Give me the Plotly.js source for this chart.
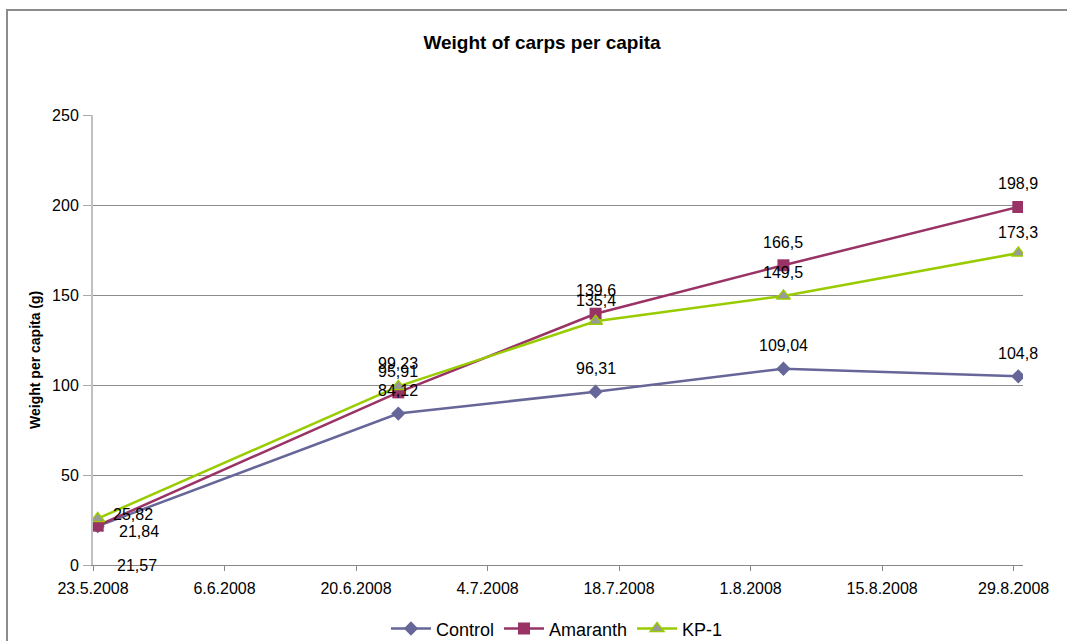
<!DOCTYPE html>
<html>
<head>
<meta charset="utf-8">
<script src="https://cdn.plot.ly/plotly-3.0.1.min.js"></script>
<style>
  html, body { margin: 0; padding: 0; background: #fff; overflow: hidden; width: 1067px; height: 641px; }
  #chart { position: absolute; left: 0; top: 0; width: 1067px; height: 641px; }
  #frame { position: absolute; left: 6px; top: 9px; width: 1059px; height: 630px;
           border-top: 2px solid #8c8c8c; border-left: 2px solid #8c8c8c; pointer-events: none; }
</style>
</head>
<body>
<div id="chart"></div>
<div id="frame"></div>
<script>
// ---- data ----
const dates = ['2008-05-23', '2008-06-24', '2008-07-15', '2008-08-04', '2008-08-29'];
const control = [21.57, 84.12, 96.31, 109.04, 104.8];
const amaranth = [21.84, 95.91, 139.6, 166.5, 198.9];
const kp1 = [25.82, 99.23, 135.4, 149.5, 173.3];
const seriesNames = ['Control', 'Amaranth', 'KP-1'];
const tickDates = ['2008-05-23', '2008-06-06', '2008-06-20', '2008-07-04', '2008-07-18', '2008-08-01', '2008-08-15', '2008-08-29'];

// ---- presentation ----
const FONT = '"Liberation Sans", Arial, sans-serif';
// Excel date axis places values in the middle of each day slot
const xs = dates.map(d => d + ' 12:00');
const fmt = v => String(v).replace('.', ',');

const styles = [
  { line: '#666699', marker: { symbol: 'diamond', size: 11, color: '#666699', line: { width: 0 } } },
  { line: '#993366', marker: { symbol: 'square', size: 12, color: '#993366', line: { width: 0 } } },
  { line: '#99CC00', marker: { symbol: 'triangle-up', size: 12, color: '#999999', line: { width: 1.5, color: '#99CC00' } } }
];
const allSeries = [control, amaranth, kp1];

const traces = allSeries.map((ys, i) => ({
  type: 'scatter', mode: 'lines+markers', name: seriesNames[i],
  x: xs, y: ys,
  line: { color: styles[i].line, width: 2.5 },
  marker: styles[i].marker,
  hoverinfo: 'x+y'
}));

// label offsets (pixels) per series / point: default above the point
const labelShift = [
  [[39, -39], null, null, null, null],
  [[41, -6], [0, 21], null, null, null],
  [[35, 4], null, [0, 21], null, [0, 21]]
];
const annotations = [];
allSeries.forEach((ys, i) => {
  ys.forEach((v, j) => {
    const s = labelShift[i][j] || [0, 23];
    annotations.push({
      x: xs[j], y: v, xref: 'x', yref: 'y', text: fmt(v), showarrow: false,
      xanchor: 'center', yanchor: 'middle', xshift: s[0], yshift: s[1],
      font: { family: FONT, size: 16, color: '#000' }
    });
  });
});
annotations.push({
  xref: 'paper', yref: 'paper', x: -0.0624, y: 0.4556, showarrow: false,
  text: '<b>Weight per capita (g)</b>', textangle: -90,
  xanchor: 'center', yanchor: 'middle',
  font: { family: FONT, size: 14, color: '#000' }
});

const layout = {
  width: 1067, height: 641,
  margin: { l: 93, r: 44, t: 115, b: 76 },
  paper_bgcolor: '#fff', plot_bgcolor: '#fff',
  font: { family: FONT, size: 16, color: '#000' },
  title: {
    text: '<b>Weight of carps per capita</b>',
    xref: 'container', yref: 'container', x: 0.508, y: 0.9345,
    xanchor: 'center', yanchor: 'middle',
    font: { family: FONT, size: 19, color: '#000' }
  },
  xaxis: {
    type: 'date',
    range: ['2008-05-23', '2008-08-30'],
    tickmode: 'array', tickvals: tickDates,
    ticktext: tickDates.map(d => { const p = d.split('-'); return (+p[2]) + '.' + (+p[1]) + '.' + p[0]; }),
    showgrid: false, zeroline: false,
    showline: true, linecolor: '#888', linewidth: 1,
    ticks: 'outside', ticklen: 5, tickcolor: '#888', tickwidth: 1,
    tickfont: { family: FONT, size: 16, color: '#000' },
    ticklabelstandoff: 4,
    automargin: false,
    fixedrange: true
  },
  yaxis: {
    range: [0, 250], dtick: 50, tick0: 0,
    showgrid: true, gridcolor: '#8c8c8c', gridwidth: 1,
    zeroline: false,
    showline: true, linecolor: '#c0c0c0', linewidth: 2,
    ticks: 'outside', ticklen: 8, tickcolor: '#aaa', tickwidth: 1,
    tickfont: { family: FONT, size: 16, color: '#000' },
    ticklabelstandoff: 1,
    automargin: false,
    fixedrange: true
  },
  legend: {
    orientation: 'h', x: 0.522, xanchor: 'center',
    xref: 'container', yref: 'container', y: 0.019, yanchor: 'middle',
    itemwidth: 40,
    font: { family: FONT, size: 18, color: '#000' },
    bgcolor: 'rgba(0,0,0,0)'
  },
  showlegend: true,
  annotations: annotations
};

Plotly.newPlot('chart', traces, layout, { displayModeBar: false, staticPlot: true });
</script>
</body>
</html>
